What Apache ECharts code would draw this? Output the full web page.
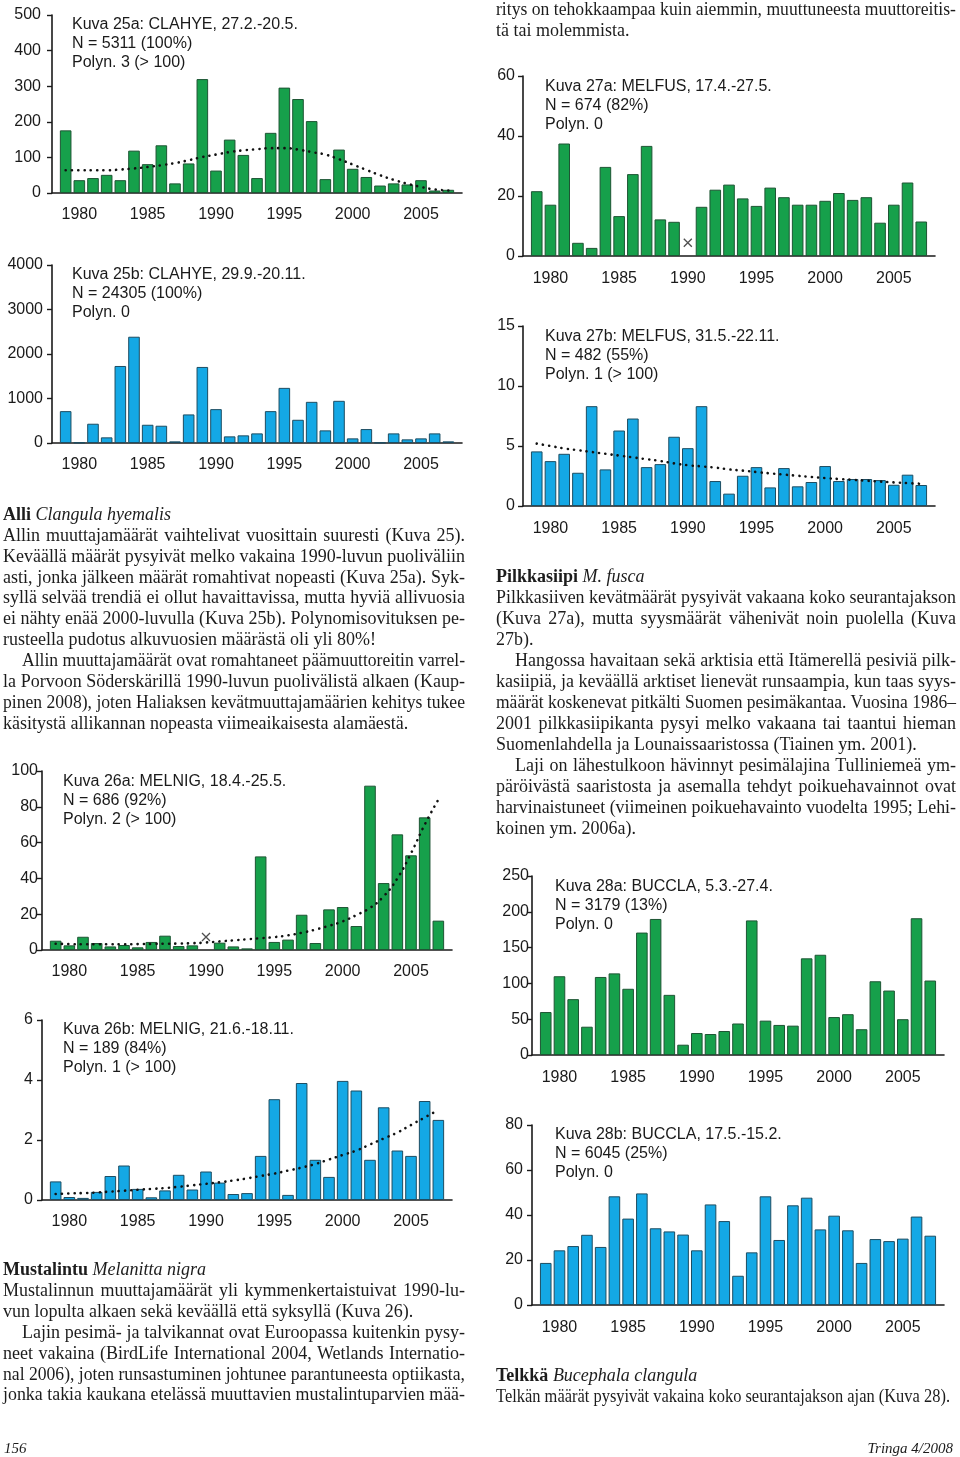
<!DOCTYPE html>
<html><head><meta charset="utf-8">
<script src="https://cdn.jsdelivr.net/npm/echarts@6/dist/echarts.min.js"></script>
<style>
html,body{margin:0;padding:0;background:#fff;}
#chart{position:absolute;left:0;top:0;width:960px;height:1457px;}
.ln{position:absolute;white-space:nowrap;font-family:"Liberation Serif","Times New Roman",serif;font-size:18px;line-height:21px;height:21px;color:#1c1c1c;}
.ln span{display:inline-block;transform-origin:0 50%;}
.ft{position:absolute;font-family:"Liberation Serif",serif;font-style:italic;font-size:15px;line-height:20px;color:#1c1c1c;}
</style></head><body>
<div id="chart"></div>
<div id="text"></div>
<script>
// ---------- data ----------
const years = [1979,1980,1981,1982,1983,1984,1985,1986,1987,1988,1989,1990,1991,1992,1993,1994,1995,1996,1997,1998,1999,2000,2001,2002,2003,2004,2005,2006,2007];
const xTickLabels = [1980,1985,1990,1995,2000,2005];

const v25a = [176,36,42,51,36,119,81,134,27,83,320,63,150,107,42,169,296,264,202,39,122,68,45,21,27,24,36,7,9];
const t25a = [64,64,64,64,66,69,73,78,84,92,101,108,115,120,123,126,126,122,115,108,95,80,65,50,37,26,17,10,7];
const v25b = [716,10,433,127,1731,2388,410,388,37,642,1709,761,149,172,216,716,1239,522,925,284,948,104,313,8,216,82,104,216,37];
const v26a = [5.2,2.6,7.4,3.9,2.0,2.8,1.5,4.5,8.0,2.2,2.6,null,4.1,2.0,0.9,52.3,4.5,5.8,19.7,3.9,22.7,24.0,13.4,91.8,37.4,64.6,52.9,74.1,16.4];
const t26a = [3.5,3.3,3.2,3.2,3.2,3.2,3.3,3.4,3.5,3.6,3.8,4.2,4.8,5.4,6.0,6.6,7.2,8.2,9.6,11.4,13.5,16,19.5,23.5,30,40,54,70,84];
const x26a = [[1990,7.3]];
const v26b = [0.62,0.10,0.07,0.27,0.80,1.15,0.37,0.09,0.32,0.84,0.35,0.95,0.58,0.20,0.23,1.47,3.36,0.17,3.90,1.34,0.77,3.97,3.65,1.34,3.09,1.65,1.47,3.30,2.67];
const t26b = [0.20,0.22,0.23,0.25,0.28,0.31,0.34,0.37,0.40,0.44,0.49,0.54,0.59,0.65,0.72,0.80,0.88,0.98,1.08,1.20,1.35,1.50,1.65,1.85,2.05,2.25,2.50,2.75,3.00];
const v27a = [21.6,17.1,37.5,4.4,2.7,29.7,13.3,27.3,36.7,12.2,11.4,null,16.4,22.1,23.8,19.2,16.7,22.8,19.6,17.1,17.1,18.4,21.0,18.7,19.6,11.1,17.1,24.5,11.5];
const x27a = [[1990,4.4]];
const v27b = [4.55,3.74,4.35,2.77,8.32,3.05,6.29,7.29,3.24,3.49,5.77,4.82,8.32,2.08,1.03,2.52,3.24,1.55,3.16,1.64,2.0,3.33,2.08,2.25,2.25,2.16,1.77,2.61,1.75];
const t27b = [5.2,5.0,4.8,4.65,4.5,4.35,4.2,4.05,3.9,3.75,3.55,3.4,3.3,3.2,3.05,2.95,2.83,2.72,2.62,2.52,2.42,2.33,2.25,2.18,2.11,2.04,1.97,1.91,1.85];
const v28a = [60,110,78,39.5,109,114,92.5,171,190,84,14.4,30.7,29.3,33.5,44,188,48,42,41,135,140,53,57,36,103,90,50,191,104];
const v28b = [18.7,24.3,26.2,31.2,25.8,48.3,38.4,49.6,34.1,32.7,31.3,24.3,44.7,37.3,13.0,23.4,48.3,28.9,44.3,47.7,33.6,39.7,33.2,18.7,29.3,28.4,29.5,39.3,30.8];

const title25a = ["Kuva 25a: CLAHYE, 27.2.-20.5.","N = 5311 (100%)","Polyn. 3 (> 100)"];
const title25b = ["Kuva 25b: CLAHYE, 29.9.-20.11.","N = 24305 (100%)","Polyn. 0"];
const title26a = ["Kuva 26a: MELNIG, 18.4.-25.5.","N = 686 (92%)","Polyn. 2 (> 100)"];
const title26b = ["Kuva 26b: MELNIG, 21.6.-18.11.","N = 189 (84%)","Polyn. 1 (> 100)"];
const title27a = ["Kuva 27a: MELFUS, 17.4.-27.5.","N = 674 (82%)","Polyn. 0"];
const title27b = ["Kuva 27b: MELFUS, 31.5.-22.11.","N = 482 (55%)","Polyn. 1 (> 100)"];
const title28a = ["Kuva 28a: BUCCLA, 5.3.-27.4.","N = 3179 (13%)","Polyn. 0"];
const title28b = ["Kuva 28b: BUCCLA, 17.5.-15.2.","N = 6045 (25%)","Polyn. 0"];

// ---------- chart panels ----------
const GREEN = {fill:'#16a04b', border:'#1e5534'};
const BLUE  = {fill:'#14a8e5', border:'#1d4d62'};
const panels = [
  {v:v25a,t:t25a,c:GREEN,ymax:500,yint:100,g:{left:52,top:15,width:410,height:178},title:title25a,tx:72,ty:15,lm:11,xm:14},
  {v:v25b,c:BLUE,ymax:4000,yint:1000,g:{left:52,top:265,width:410,height:178},title:title25b,tx:72,ty:265,lm:9,xm:14},
  {v:v26a,t:t26a,x:x26a,c:GREEN,ymax:100,yint:20,g:{left:42,top:771,width:410,height:179},title:title26a,tx:63,ty:772,lm:4,xm:14},
  {v:v26b,t:t26b,c:BLUE,ymax:6,yint:2,g:{left:42,top:1020,width:410,height:180},title:title26b,tx:63,ty:1020,lm:9,xm:14},
  {v:v27a,x:x27a,c:GREEN,ymax:60,yint:20,g:{left:523,top:76,width:412,height:180},title:title27a,tx:545,ty:77,lm:8,xm:15},
  {v:v27b,t:t27b,c:BLUE,ymax:15,yint:5,g:{left:523,top:326,width:412,height:180},title:title27b,tx:545,ty:327,lm:8,xm:15},
  {v:v28a,c:GREEN,ymax:250,yint:50,g:{left:532,top:876,width:412,height:179},title:title28a,tx:555,ty:877,lm:3,xm:15},
  {v:v28b,c:BLUE,ymax:80,yint:20,g:{left:532,top:1125,width:412,height:180},title:title28b,tx:555,ty:1125,lm:9,xm:15}
];

const FONT = '"Liberation Sans", Arial, sans-serif';
const option = {animation:false, grid:[], xAxis:[], yAxis:[], series:[], graphic:[]};
panels.forEach((p,i)=>{
  option.grid.push(Object.assign({containLabel:false}, p.g));
  option.xAxis.push({type:'value', gridIndex:i, min:1978, max:2008, interval:1,
    splitLine:{show:false}, axisTick:{show:false},
    axisLine:{show:true, lineStyle:{color:'#1a1a1a', width:1.6}},
    axisLabel:{show:true, margin:p.xm, fontSize:16, fontFamily:FONT, color:'#1a1a1a',
      showMinLabel:true, showMaxLabel:true,
      formatter:v=> xTickLabels.indexOf(Math.round(v))>=0 ? String(Math.round(v)) : ''}});
  option.yAxis.push({type:'value', gridIndex:i, min:0, max:p.ymax, interval:p.yint,
    splitLine:{show:false},
    axisLine:{show:true, lineStyle:{color:'#1a1a1a', width:1.6}},
    axisTick:{show:true, length:5, lineStyle:{color:'#1a1a1a', width:1.4}},
    axisLabel:{margin:p.lm, fontSize:16, fontFamily:FONT, color:'#1a1a1a', formatter:v=>String(v)}});
  option.series.push({type:'bar', xAxisIndex:i, yAxisIndex:i, barWidth:11.6,
    data: years.map((y,k)=>[y, p.v[k]==null ? '-' : p.v[k]]),
    itemStyle:{color:p.c.fill, borderColor:p.c.border, borderWidth:1}, silent:true});
  if(p.t){
    option.series.push({type:'line', xAxisIndex:i, yAxisIndex:i, smooth:true, symbol:'none', z:5,
      data: years.map((y,k)=>[y,p.t[k]]),
      lineStyle:{color:'#111', width:2.6, type:[0.1,6.2], cap:'round'}, silent:true});
  }
  if(p.x){
    option.series.push({type:'scatter', xAxisIndex:i, yAxisIndex:i, z:6,
      symbol:'path://M0 0L10 10M10 0L0 10', symbolSize:8,
      data:p.x, itemStyle:{color:'rgba(0,0,0,0)', borderColor:'#222', borderWidth:1.3}, silent:true});
  }
  option.graphic.push({type:'text', x:p.tx, y:p.ty, silent:true,
    style:{text:p.title.join('\n'), fontSize:16, fontFamily:FONT, fill:'#1a1a1a', lineHeight:19, verticalAlign:'top', align:'left'}});
});

const chart = echarts.init(document.getElementById('chart'), null, {width:960, height:1457});
chart.setOption(option);

// ---------- body text ----------
// flags: 0 = left, 1 = justified, 2 = indented + justified
const textBlocks = [
  {x:496, w:460, y0:9, step:21, lines:[
    ["ritys on tehokkaampaa kuin aiemmin, muuttuneesta muuttoreitis-",1],
    ["tä tai molemmista.",0]]},
  {x:3, w:462, y0:514.5, step:20.85, lines:[
    ["<b>Alli</b> <i>Clangula hyemalis</i>",0],
    ["Allin muuttajamäärät vaihtelivat vuosittain suuresti (Kuva 25).",1],
    ["Keväällä määrät pysyivät melko vakaina 1990-luvun puoliväliin",1],
    ["asti, jonka jälkeen määrät romahtivat nopeasti (Kuva 25a). Syk-",1],
    ["syllä selvää trendiä ei ollut havaittavissa, mutta hyviä allivuosia",1],
    ["ei nähty enää 2000-luvulla (Kuva 25b). Polynomisovituksen pe-",1],
    ["rusteella pudotus alkuvuosien määrästä oli yli 80%!",0],
    ["Allin muuttajamäärät ovat romahtaneet päämuuttoreitin varrel-",2],
    ["la Porvoon Söderskärillä 1990-luvun puolivälistä alkaen (Kaup-",1],
    ["pinen 2008), joten Haliaksen kevätmuuttajamäärien kehitys tukee",1],
    ["käsitystä allikannan nopeasta viimeaikaisesta alamäestä.",0]]},
  {x:496, w:460, y0:576, step:21, lines:[
    ["<b>Pilkkasiipi</b> <i>M. fusca</i>",0],
    ["Pilkkasiiven kevätmäärät pysyivät vakaana koko seurantajakson",1],
    ["(Kuva 27a), mutta syysmäärät vähenivät noin puolella (Kuva",1],
    ["27b).",0],
    ["Hangossa havaitaan sekä arktisia että Itämerellä pesiviä pilk-",2],
    ["kasiipiä, ja keväällä arktiset lienevät runsaampia, kun taas syys-",1],
    ["määrät koskenevat pitkälti Suomen pesimäkantaa. Vuosina 1986–",1],
    ["2001 pilkkasiipikanta pysyi melko vakaana tai taantui hieman",1],
    ["Suomenlahdella ja Lounaissaaristossa (Tiainen ym. 2001).",0],
    ["Laji on lähestulkoon hävinnyt pesimälajina Tulliniemeä ym-",2],
    ["päröivästä saaristosta ja asemalla tehdyt poikuehavainnot ovat",1],
    ["harvinaistuneet (viimeinen poikuehavainto vuodelta 1995; Lehi-",1],
    ["koinen ym. 2006a).",0]]},
  {x:3, w:462, y0:1269.5, step:20.9, lines:[
    ["<b>Mustalintu</b> <i>Melanitta nigra</i>",0],
    ["Mustalinnun muuttajamäärät yli kymmenkertaistuivat 1990-lu-",1],
    ["vun lopulta alkaen sekä keväällä että syksyllä (Kuva 26).",0],
    ["Lajin pesimä- ja talvikannat ovat Euroopassa kuitenkin pysy-",2],
    ["neet vakaina (BirdLife International 2004, Wetlands Internatio-",1],
    ["nal 2006), joten runsastuminen johtunee parantuneesta optiikasta,",1],
    ["jonka takia kaukana etelässä muuttavien mustalintuparvien mää-",1]]},
  {x:496, w:454, y0:1375, step:21, lines:[
    ["<b>Telkkä</b> <i>Bucephala clangula</i>",0],
    ["Telkän määrät pysyivät vakaina koko seurantajakson ajan (Kuva 28).",0]]}
];
const footer = [["156","left"],["Tringa 4/2008","right"]];

const host = document.getElementById('text');
const INDENT = 19;
textBlocks.forEach(b=>{
  b.lines.forEach((l,k)=>{
    const d = document.createElement('div');
    d.className='ln';
    const ind = l[1]===2 ? INDENT : 0;
    const w = b.w - ind;
    d.style.left = (b.x+ind)+'px';
    d.style.top = (b.y0 + k*b.step - 10.5)+'px';
    d.style.width = w+'px';
    d.dataset.w = w; d.dataset.j = l[1]===0 ? '0' : '1';
    const s = document.createElement('span');
    s.innerHTML = l[0];
    d.appendChild(s);
    host.appendChild(d);
  });
});
footer.forEach((f,i)=>{
  const d=document.createElement('div'); d.className='ft';
  d.style.top='1438px';
  if(f[1]==='left'){d.style.left='4px';} else {d.style.right='7px';}
  d.textContent=f[0]; host.appendChild(d);
});
function fit(){
  document.querySelectorAll('.ln').forEach(d=>{
    const s=d.firstChild; const W=+d.dataset.w;
    s.style.wordSpacing='0px'; s.style.transform='none';
    const nat=s.getBoundingClientRect().width;
    if(d.dataset.j==='1'){
      const n=(s.textContent.match(/ /g)||[]).length;
      if(nat<W && n>0) s.style.wordSpacing=((W-nat)/n)+'px';
    }
    const nat2=s.getBoundingClientRect().width;
    if(nat2>W) s.style.transform='scaleX('+(W/nat2)+')';
  });
}
fit();
if(document.fonts && document.fonts.ready) document.fonts.ready.then(fit);
</script>
</body></html>
